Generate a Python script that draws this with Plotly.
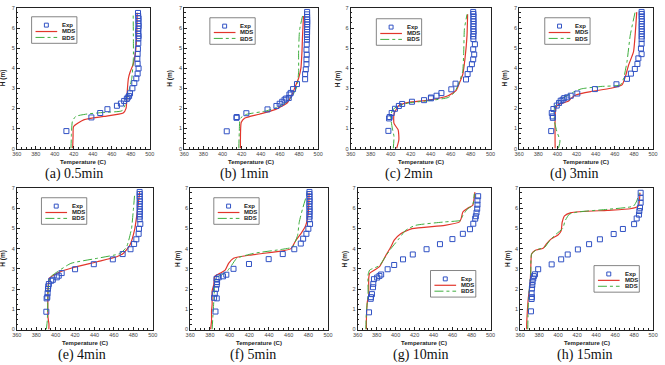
import plotly.graph_objects as go

W, H = 665, 365

# ---------------- data (Temperature in C, height H in m) ----------------
exp_H_a = [0.87, 1.55, 1.77, 1.96, 2.13, 2.24, 2.37, 2.47, 2.54, 2.62, 2.75, 3.0, 3.26, 3.49, 3.73, 3.99, 4.22, 4.47, 4.71, 4.96, 5.24, 5.48, 5.6, 5.72, 5.85, 5.97, 6.1, 6.22, 6.35, 6.48, 6.6, 6.75]
exp_T_a = [412.2, 438.5, 447.8, 455.4, 465.4, 469.6, 473.0, 475.8, 476.8, 478.2, 479.2, 481.7, 483.7, 485.8, 487.2, 488.2, 487.2, 486.9, 487.2, 487.5, 487.9, 488.0, 488.2, 487.9, 487.8, 488.0, 488.3, 488.1, 488.0, 488.2, 487.8, 487.6]
mds_H_a = [0, 0.6, 1.1, 1.44, 1.6, 1.77, 2.0, 2.5, 3.0, 3.5, 3.8, 4.22, 4.8, 5.6, 6.76]
mds_T_a = [418.8, 419.2, 419.8, 431, 451.6, 472, 475, 475.8, 476.5, 477.5, 479.2, 482.7, 485, 486.2, 486.8]
bds_H_a = [0, 0.7, 1.35, 1.6, 1.72, 1.8, 1.88, 2.18, 2.5, 3.0, 3.49, 4.47, 5.6, 6.76]
bds_T_a = [417, 417.5, 418.5, 422, 434, 451.6, 470.6, 474, 475.8, 478.6, 481, 482.7, 482.7, 482.5]

exp_H_b = [0.86, 1.53, 1.57, 1.76, 1.95, 2.12, 2.23, 2.33, 2.43, 2.49, 2.52, 2.69, 2.77, 2.96, 3.21, 3.45, 3.71, 3.94, 4.2, 4.44, 4.67, 4.92, 5.18, 5.42, 5.55, 5.68, 5.8, 5.93, 6.05, 6.18, 6.3, 6.42, 6.55, 6.68, 6.8]
exp_T_b = [404.4, 414.6, 414.8, 424.9, 447, 456.3, 459.7, 462.4, 464.8, 466.5, 469.2, 469.9, 471.3, 473.7, 477.8, 486.3, 486.3, 487, 487.7, 487.7, 488, 487.7, 488, 488.2, 488.3, 488.2, 488.4, 488.3, 488.5, 488.4, 488.6, 488.4, 488.5, 488.3, 488.4]
mds_H_b = [0, 0.8, 1.3, 1.51, 1.71, 1.95, 2.27, 2.69, 3.09, 3.5, 4.0, 4.8, 5.6, 6.6]
mds_T_b = [418.7, 418.8, 419.5, 423, 438.5, 455.6, 467.5, 472.7, 476, 479.5, 481.9, 483, 483.6, 484.6]
bds_H_b = [0, 0.8, 1.5, 1.7, 1.87, 2.03, 2.28, 2.6, 3.09, 3.82, 4.8, 5.9, 6.6]
bds_T_b = [417, 417.5, 418.5, 424.9, 445.4, 455.6, 465.8, 472.7, 477.8, 479.5, 479.5, 480.5, 483.6]

exp_H_c = [0.88, 1.5, 1.57, 1.77, 1.98, 2.12, 2.22, 2.33, 2.41, 2.5, 2.54, 2.63, 2.76, 2.95, 3.23, 3.44, 3.71, 3.95, 4.2, 4.44, 4.68, 4.94, 5.19, 5.45, 5.58, 5.7, 5.83, 5.95, 6.08, 6.2, 6.33, 6.45, 6.58, 6.7, 6.8]
exp_T_c = [397.7, 398.4, 399, 401, 404.3, 408.2, 411.5, 421.3, 433.4, 440.3, 440.3, 445.9, 450.8, 460.7, 464.9, 475.4, 477, 479.3, 481.3, 482.6, 483.6, 482.6, 484.3, 482.8, 482.6, 482.9, 483, 482.7, 482.9, 482.8, 483, 482.7, 482.9, 482.8, 482.6]
mds_H_c = [0, 0.44, 0.93, 1.25, 1.73, 2.14, 2.3, 2.41, 2.63, 2.9, 3.27, 3.68, 4.49, 5.62, 6.68]
mds_T_c = [405.9, 408.2, 407.5, 403.3, 403.3, 408.2, 418, 437.7, 457.4, 465.6, 468.9, 472.1, 474.4, 476.4, 477]
bds_H_c = [0, 0.6, 1.02, 1.57, 1.9, 2.1, 2.27, 2.38, 2.54, 2.79, 3.35, 3.84, 4.8, 5.95, 6.68]
bds_T_c = [402.6, 403.3, 401.6, 400, 401.6, 406.6, 418, 437.7, 457.4, 463.9, 468.9, 472.1, 473.1, 473.8, 476.4]

exp_H_d = [0.87, 1.53, 1.6, 1.77, 1.97, 2.14, 2.27, 2.38, 2.43, 2.51, 2.55, 2.63, 2.74, 2.96, 3.2, 3.47, 3.73, 3.96, 4.21, 4.49, 4.7, 4.98, 5.22, 5.45, 5.58, 5.7, 5.83, 5.95, 6.08, 6.2, 6.33, 6.45, 6.58, 6.7, 6.8]
exp_T_d = [393.5, 395.2, 395, 394.1, 395.8, 399.3, 401.7, 403.4, 405.4, 407.1, 410.2, 413.9, 420.8, 439.2, 461.7, 472.7, 476.8, 480.9, 483.6, 484.6, 488, 487.3, 488, 488, 488.1, 488, 488.2, 488, 488.1, 488, 488.2, 488.1, 488, 488.1, 488]
mds_H_d = [0, 0.8, 1.53, 2.02, 2.19, 2.35, 2.51, 2.68, 2.84, 3.0, 3.17, 3.58, 4.16, 4.81, 5.64, 6.79]
mds_T_d = [397.6, 397.5, 397.6, 398.2, 401, 411.2, 414.5, 419.7, 435.1, 455.6, 467.5, 471, 474.4, 479.5, 481.2, 482.9]
bds_H_d = [0, 0.38, 0.87, 1.36, 2.02, 2.35, 2.76, 2.97, 3.09, 3.17, 3.5, 4.32, 5.64, 6.79]
bds_T_d = [401, 402.7, 399.3, 396.9, 396.9, 401, 414.6, 424.9, 445.4, 465.8, 469.2, 472.7, 476.1, 481.2]

exp_H_e = [0.88, 1.54, 1.6, 1.8, 2.01, 2.14, 2.25, 2.41, 2.46, 2.58, 2.66, 2.79, 2.98, 3.23, 3.47, 3.73, 3.97, 4.23, 4.46, 4.73, 4.98, 5.22, 5.45, 5.58, 5.7, 5.83, 5.95, 6.08, 6.2, 6.33, 6.45, 6.58, 6.7, 6.8]
exp_T_e = [390.4, 390.7, 391.4, 391.7, 392.1, 392.4, 393, 395.4, 397.1, 401.2, 403.2, 406.2, 420, 439.3, 458.9, 469, 477.1, 480.8, 483.1, 485.5, 485.8, 487.2, 486.5, 486.6, 486.5, 486.7, 486.5, 486.6, 486.5, 486.7, 486.6, 486.5, 486.6, 486.5]
mds_H_e = [0, 0.28, 0.6, 2.06, 2.54, 2.71, 2.87, 3.03, 3.35, 3.6, 3.76, 4.17, 4.98, 6.1, 6.79]
mds_T_e = [393, 393.1, 392.1, 392.1, 393.7, 398.8, 405.5, 415.7, 442.7, 462.9, 469.6, 476.4, 481.5, 484.8, 486.5]
bds_H_e = [0, 0.44, 1.73, 2.38, 2.63, 2.87, 3.27, 3.52, 3.76, 4.08, 4.98, 5.79, 6.76]
bds_T_e = [390.4, 391.4, 392.1, 393.1, 395.4, 402.2, 415.7, 442.7, 466.3, 473, 478.1, 479.8, 481.5]

exp_H_f = [0.89, 1.54, 1.57, 1.77, 2.01, 2.22, 2.35, 2.5, 2.58, 2.63, 2.71, 3.0, 3.24, 3.48, 3.73, 3.97, 4.25, 4.49, 4.73, 4.98, 5.22, 5.45, 5.58, 5.7, 5.83, 5.95, 6.08, 6.2, 6.33, 6.45, 6.58, 6.7, 6.8]
exp_T_f = [385.7, 387, 384.3, 385, 386.3, 387, 387.3, 386.7, 389, 393.3, 396.7, 404, 419.7, 439.7, 454, 465.7, 472.3, 474.7, 478, 480, 481.7, 481, 481.2, 481, 481.3, 481.1, 481.2, 481, 481.3, 481.1, 481.2, 481, 481.1]
mds_H_f = [0, 0.44, 0.92, 1.25, 1.9, 2.22, 2.63, 2.79, 2.95, 3.27, 3.52, 3.68, 3.89, 4.0, 4.41, 4.73, 5.14, 5.79, 6.76]
mds_T_f = [380.7, 381.7, 381.7, 382.3, 382.3, 384, 385, 390.7, 395.7, 399, 404, 420.7, 454, 462.3, 467.3, 472.3, 477.3, 480, 480.7]
bds_H_f = [0, 0.6, 1.41, 2.06, 2.54, 2.71, 2.87, 3.19, 3.52, 3.76, 3.97, 4.08, 4.65, 5.3, 5.95, 6.76]
bds_T_f = [382.3, 383, 384, 384.7, 385.7, 392.3, 397.3, 402.3, 407.3, 424, 454, 464, 469, 470.7, 474, 479]

exp_H_g = [0.85, 1.52, 1.6, 1.75, 2.09, 2.26, 2.49, 2.57, 2.65, 2.72, 2.98, 3.19, 3.47, 3.71, 3.97, 4.22, 4.47, 4.73, 4.96, 5.23, 5.48, 5.6, 5.78, 5.97, 6.17, 6.38, 6.59]
exp_T_g = [372, 373.8, 374.1, 375.1, 376.2, 376.5, 377.2, 380.6, 383, 384.8, 391.6, 398.5, 407.8, 418.1, 432.6, 446.7, 459.8, 470.8, 478.3, 481.8, 483.8, 484.5, 485.2, 485.9, 486.2, 486.2, 486.9]
mds_H_g = [0, 0.57, 1.39, 1.72, 2.54, 2.78, 2.94, 3.11, 3.68, 4.09, 4.42, 4.74, 4.99, 5.15, 5.32, 5.48, 5.81, 6.0, 6.13, 6.79]
mds_T_g = [369.3, 369.3, 370.3, 371.7, 371.7, 372.7, 377.9, 383, 389.9, 395.1, 398.5, 405.4, 417.4, 451.8, 467.3, 469, 470.8, 475.9, 481.1, 483.5]
bds_H_g = [0, 0.9, 1.72, 2.7, 2.94, 3.16, 3.65, 4.0, 4.5, 4.91, 5.15, 5.32, 5.4, 5.64, 5.97, 6.13, 6.71]
bds_T_g = [368.6, 369.3, 371, 371, 372.7, 383, 389.9, 395.1, 403.7, 410.6, 421, 451.8, 468.4, 470.8, 475.9, 481.1, 482.8]

exp_H_h = [0.9, 1.51, 1.6, 1.79, 2.03, 2.2, 2.36, 2.52, 2.64, 2.73, 2.98, 3.22, 3.47, 3.71, 3.96, 4.22, 4.46, 4.72, 4.97, 5.21, 5.49, 5.68, 5.86, 6.02, 6.27, 6.51, 6.76]
exp_T_h = [371.4, 372.1, 372.4, 372.1, 372.4, 372.8, 373.1, 373.8, 374.5, 375.6, 379, 393.2, 403.2, 410.1, 420.8, 432.6, 444, 458.5, 468.2, 480, 482.7, 485.1, 485.5, 486.2, 486.9, 486.9, 486.9]
mds_H_h = [0, 0.24, 0.9, 1.55, 2.2, 2.85, 3.74, 3.91, 4.02, 4.23, 4.48, 4.67, 4.88, 5.29, 5.62, 5.78, 5.89, 5.97, 6.1, 6.76]
mds_T_h = [366.9, 366.9, 367.6, 368.6, 370.4, 371.1, 372.1, 375.6, 384.2, 387.7, 392.8, 399.8, 403.2, 404.2, 406.7, 413.6, 451.6, 475.8, 484.4, 486.2]
bds_H_h = [0, 1.22, 2.03, 2.69, 3.74, 3.94, 4.07, 4.4, 4.72, 5.0, 5.37, 5.7, 5.81, 5.94, 6.1, 6.35, 6.76]
bds_T_h = [368, 368.6, 369.7, 371.1, 372.1, 377.3, 385.9, 391.1, 398, 404.9, 407.3, 411.8, 420.5, 451.6, 479.3, 482.7, 485.5]

captions = ["(a) 0.5min", "(b) 1min", "(c) 2min", "(d) 3min",
            "(e) 4min", "(f) 5min", "(g) 10min", "(h) 15min"]
series_names = ["Exp", "MDS", "BDS"]
x_ticks = [360, 380, 400, 420, 440, 460, 480, 500]
y_ticks = [0, 1, 2, 3, 4, 5, 6, 7]

data = [
    (exp_T_a, exp_H_a, mds_T_a, mds_H_a, bds_T_a, bds_H_a),
    (exp_T_b, exp_H_b, mds_T_b, mds_H_b, bds_T_b, bds_H_b),
    (exp_T_c, exp_H_c, mds_T_c, mds_H_c, bds_T_c, bds_H_c),
    (exp_T_d, exp_H_d, mds_T_d, mds_H_d, bds_T_d, bds_H_d),
    (exp_T_e, exp_H_e, mds_T_e, mds_H_e, bds_T_e, bds_H_e),
    (exp_T_f, exp_H_f, mds_T_f, mds_H_f, bds_T_f, bds_H_f),
    (exp_T_g, exp_H_g, mds_T_g, mds_H_g, bds_T_g, bds_H_g),
    (exp_T_h, exp_H_h, mds_T_h, mds_H_h, bds_T_h, bds_H_h),
]

# ---------------- layout (pixel geometry) ----------------
# plot boxes: left, right, top, bottom
boxes = [(12, 147, 5, 148), (182, 318, 5, 148), (351, 493, 5, 148), (522, 658, 5, 148),
         (12, 150, 188, 332), (188, 328, 188, 332), (358, 493, 188, 332), (523, 658, 188, 332)]
caption_x = [70, 243, 410, 578, 78, 252, 422, 589]
ytitle_x = [-2, 168, 338, 508, -2, 175, 345, 510]
legend_pos = [(27, 14), (208, 15), (377, 16), (548, 15),
              (37, 198), (212, 198), (432, 272), (598, 267)]

BLUE = "#3152c4"
RED = "#e2362c"
GREEN = "#3fae3f"
FONT = "Liberation Sans"


def px(x):
    return x / W


def py(y):
    return 1 - y / H


fig = go.Figure()
annotations = []
shapes = []

for i, (eT, eH, mT, mH, bT, bH) in enumerate(data):
    n = i + 1
    xa = "x" if n == 1 else f"x{n}"
    ya = "y" if n == 1 else f"y{n}"
    fig.add_trace(go.Scatter(x=mT, y=mH, mode="lines", xaxis=xa, yaxis=ya,
                             line=dict(color=RED, width=1.2, shape="spline", smoothing=0.5),
                             showlegend=False, name=series_names[1]))
    fig.add_trace(go.Scatter(x=bT, y=bH, mode="lines", xaxis=xa, yaxis=ya,
                             line=dict(color=GREEN, width=1, dash="dashdot", shape="spline", smoothing=0.5),
                             showlegend=False, name=series_names[2]))
    fig.add_trace(go.Scatter(x=eT, y=eH, mode="markers", xaxis=xa, yaxis=ya,
                             marker=dict(symbol="square-open", size=5, color=BLUE, line=dict(width=1)),
                             showlegend=False, name=series_names[0]))

    l, r, t, b = boxes[i]
    axis_common = dict(showline=True, linecolor="#222", linewidth=1, mirror=True,
                       ticks="inside", ticklen=3, tickcolor="#222", showgrid=False,
                       zeroline=False, tickfont=dict(family=FONT, size=5.5, color="#444"))
    fig.update_layout(**{
        ("xaxis" if n == 1 else f"xaxis{n}"): dict(
            domain=[px(l), px(r)], anchor=ya, range=[360, 500],
            tickvals=x_ticks, minor=dict(ticks="inside", ticklen=1.5, dtick=5, tickcolor="#222"),
            **axis_common),
        ("yaxis" if n == 1 else f"yaxis{n}"): dict(
            domain=[py(b), py(t)], anchor=xa, range=[0, 7],
            tickvals=y_ticks, minor=dict(ticks="inside", ticklen=1.5, dtick=0.25, tickcolor="#222"),
            **axis_common),
    })

    # axis titles
    annotations.append(dict(text="<b>Temperature (C)</b>", x=px((l + r) / 2), y=py(b + 13.5),
                            xref="paper", yref="paper", showarrow=False,
                            font=dict(family=FONT, size=6, color="#222"),
                            xanchor="center", yanchor="middle"))
    annotations.append(dict(text="<b>H (m)</b>", x=px(ytitle_x[i]), y=py((t + b) / 2),
                            xref="paper", yref="paper", showarrow=False, textangle=-90,
                            font=dict(family=FONT, size=6.5, color="#222"),
                            xanchor="center", yanchor="middle"))
    # caption
    annotations.append(dict(text=captions[i], x=px(caption_x[i]), y=py(b + 26),
                            xref="paper", yref="paper", showarrow=False,
                            font=dict(family="Liberation Serif", size=14, color="#111"),
                            xanchor="center", yanchor="middle"))

    # legend box (drawn with shapes & text)
    lx, ly = legend_pos[i]
    lw, lh = 46, 27
    shapes.append(dict(type="rect", xref="paper", yref="paper",
                       x0=px(lx), x1=px(lx + lw), y0=py(ly + lh), y1=py(ly),
                       line=dict(color="#666", width=0.8), fillcolor="white", layer="above"))
    shapes.append(dict(type="rect", xref="paper", yref="paper",
                       x0=px(lx + 13), x1=px(lx + 17), y0=py(ly + 10.5), y1=py(ly + 6.5),
                       line=dict(color=BLUE, width=1), fillcolor="rgba(0,0,0,0)", layer="above"))
    shapes.append(dict(type="line", xref="paper", yref="paper",
                       x0=px(lx + 4), x1=px(lx + 26), y0=py(ly + 15), y1=py(ly + 15),
                       line=dict(color=RED, width=1.2), layer="above"))
    shapes.append(dict(type="line", xref="paper", yref="paper",
                       x0=px(lx + 4), x1=px(lx + 26), y0=py(ly + 21), y1=py(ly + 21),
                       line=dict(color=GREEN, width=1, dash="dashdot"), layer="above"))
    for k, nm in enumerate(series_names):
        annotations.append(dict(text=f"<b>{nm}</b>", x=px(lx + 29), y=py(ly + 8.5 + 6.3 * k),
                                xref="paper", yref="paper", showarrow=False,
                                font=dict(family=FONT, size=6, color="#222"),
                                xanchor="left", yanchor="middle"))

fig.update_layout(width=W, height=H, margin=dict(l=0, r=0, t=0, b=0),
                  paper_bgcolor="white", plot_bgcolor="white",
                  showlegend=False, annotations=annotations, shapes=shapes)

fig.write_html("out.html")
